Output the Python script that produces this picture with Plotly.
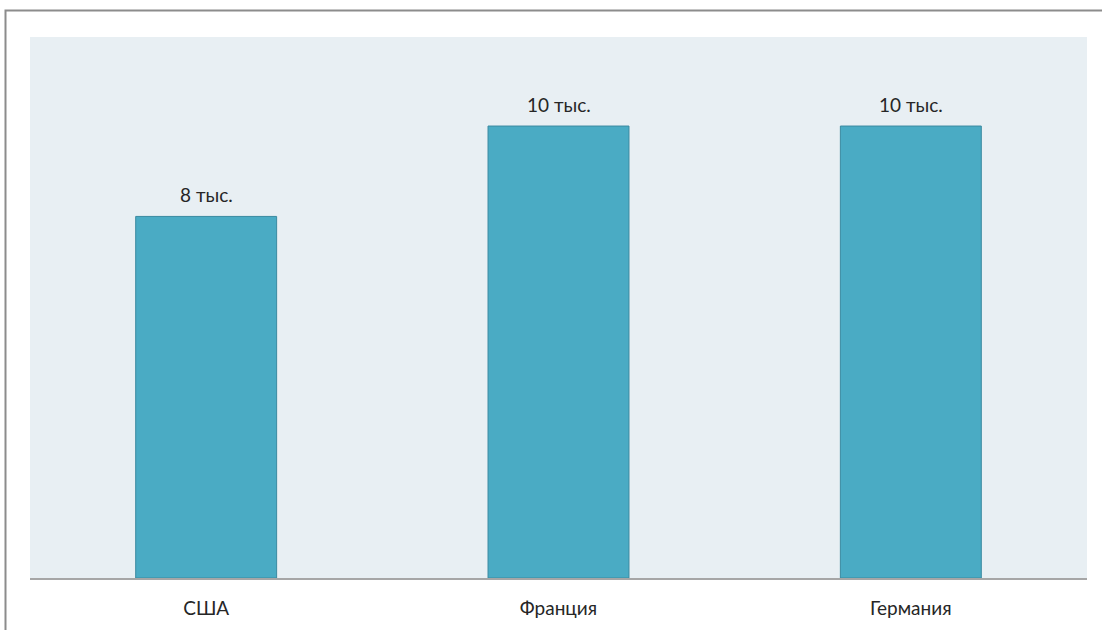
import plotly.graph_objects as go

categories = ["США", "Франция", "Германия"]
values = [8000, 10000, 10000]
labels = ["8 тыс.", "10 тыс.", "10 тыс."]

FONT = "Lato"
FS = 19
fig = go.Figure()
fig.add_trace(go.Bar(
    x=categories, y=values,
    marker=dict(color="#4aabc4", line=dict(color="#3a8aa0", width=1)),
    hoverinfo="skip",
))
for c, v, t in zip(categories, values, labels):
    fig.add_annotation(x=c, y=v, text=t, showarrow=False, yanchor="bottom",
                       yshift=8, font=dict(family=FONT, size=FS, color="#262626"))

W, H = 1102, 630
ml, mr, mt, mb = 30, 15, 37, 52
pw, ph = W - ml - mr, H - mt - mb
fig.add_shape(type="rect", xref="paper", yref="paper",
              x0=(5.5 - ml) / pw, x1=(W + 20 - ml) / pw,
              y0=-(H + 20 - mt - ph) / ph, y1=(H - mb - 10.5) / ph,
              line=dict(color="#8c8c8c", width=2), fillcolor="rgba(0,0,0,0)", layer="above")

fig.update_layout(
    width=W, height=H, margin=dict(l=ml, r=mr, t=mt, b=mb),
    paper_bgcolor="white", plot_bgcolor="#e8eff3",
    bargap=0.6, showlegend=False,
    font=dict(family=FONT, size=FS, color="#262626"),
    xaxis=dict(showline=True, linecolor="#a6a6a6", linewidth=2, ticks="", ticklabelstandoff=12,
               tickfont=dict(family=FONT, size=FS, color="#262626")),
    yaxis=dict(range=[0, 11970], visible=False, showgrid=False),
)
fig.write_html("out.html")
